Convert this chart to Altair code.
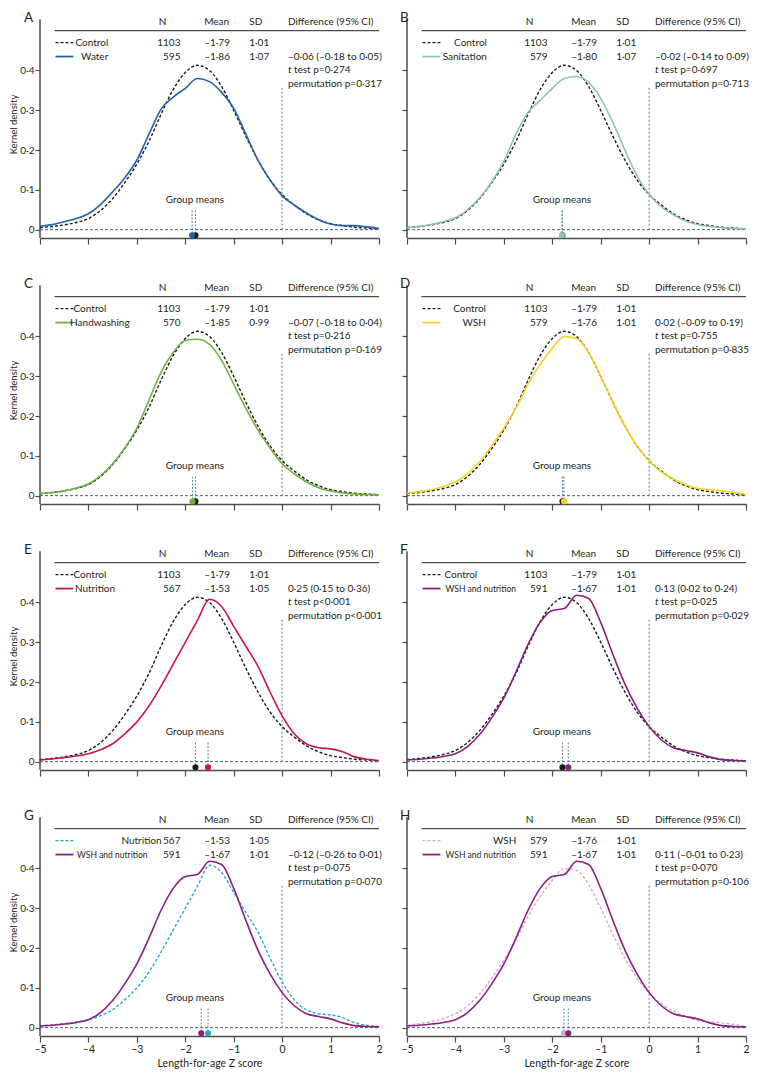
import altair as alt
import pandas as pd

# ---------------- data ----------------
X_GRID = [-5.0, -4.75, -4.5, -4.25, -4.0, -3.75, -3.5, -3.25, -3.0, -2.75, -2.5, -2.25,
          -2.0, -1.75, -1.5, -1.25, -1.0, -0.75, -0.5, -0.25, 0.0, 0.25, 0.5, 0.75,
          1.0, 1.25, 1.5, 1.75, 2.0]

CONTROL = [0.005, 0.008, 0.012, 0.018, 0.028, 0.048, 0.078, 0.118, 0.165, 0.222, 0.29, 0.352,
           0.395, 0.413, 0.40, 0.36, 0.30, 0.235, 0.175, 0.125, 0.088, 0.062, 0.04, 0.025,
           0.015, 0.01, 0.006, 0.004, 0.002]
WATER = [0.009, 0.013, 0.02, 0.028, 0.04, 0.063, 0.095, 0.13, 0.175, 0.24, 0.303, 0.333,
         0.355, 0.38, 0.372, 0.345, 0.305, 0.24, 0.175, 0.125, 0.085, 0.062, 0.042, 0.025,
         0.014, 0.01, 0.01, 0.007, 0.003]
SANITATION = [0.005, 0.008, 0.013, 0.02, 0.03, 0.05, 0.08, 0.12, 0.172, 0.24, 0.295, 0.325,
              0.355, 0.38, 0.385, 0.37, 0.33, 0.27, 0.2, 0.135, 0.088, 0.058, 0.037, 0.022,
              0.013, 0.008, 0.005, 0.003, 0.002]
HANDWASHING = [0.005, 0.008, 0.012, 0.019, 0.03, 0.05, 0.08, 0.12, 0.17, 0.24, 0.31, 0.36,
               0.39, 0.393, 0.38, 0.34, 0.28, 0.22, 0.165, 0.12, 0.08, 0.055, 0.035, 0.02,
               0.012, 0.007, 0.004, 0.003, 0.002]
WSH = [0.006, 0.01, 0.015, 0.023, 0.035, 0.055, 0.085, 0.125, 0.17, 0.22, 0.28, 0.33,
       0.37, 0.40, 0.395, 0.36, 0.30, 0.235, 0.175, 0.125, 0.087, 0.06, 0.042, 0.028,
       0.018, 0.015, 0.012, 0.008, 0.003]
NUTRITION = [0.004, 0.007, 0.01, 0.014, 0.02, 0.03, 0.045, 0.07, 0.10, 0.14, 0.19, 0.245,
             0.30, 0.355, 0.408, 0.39, 0.34, 0.29, 0.24, 0.175, 0.115, 0.07, 0.045, 0.035,
             0.032, 0.025, 0.012, 0.006, 0.003]
WSHN = [0.004, 0.006, 0.009, 0.013, 0.02, 0.038, 0.068, 0.11, 0.16, 0.225, 0.295, 0.35,
        0.38, 0.385, 0.418, 0.41, 0.35, 0.27, 0.195, 0.135, 0.088, 0.055, 0.035, 0.028,
        0.022, 0.012, 0.005, 0.003, 0.002]

SERIES_KEYS = ["control", "water", "sanitation", "handwashing", "wsh", "nutrition", "wshn",
               "nutrition_dash", "wsh_dash"]
SERIES_COLORS = ["#1a1a1a", "#2262a8", "#8ec5b2", "#6db33f", "#f5d31d", "#c8184b", "#8b1f7f",
                 "#2aa8c8", "#d9a8d0"]
CURVES = {"control": CONTROL, "water": WATER, "sanitation": SANITATION,
          "handwashing": HANDWASHING, "wsh": WSH, "nutrition": NUTRITION, "wshn": WSHN,
          "nutrition_dash": NUTRITION, "wsh_dash": WSH}

PANELS = ["A", "B", "C", "D", "E", "F", "G", "H"]
DASHED_SERIES = ["control"] * 6 + ["nutrition_dash", "wsh_dash"]
SOLID_SERIES = ["water", "sanitation", "handwashing", "wsh", "nutrition", "wshn", "wshn", "wshn"]

ROW1_LABEL = ["Control"] * 6 + ["Nutrition", "WSH"]
ROW2_LABEL = ["Water", "Sanitation", "Handwashing", "WSH", "Nutrition",
              "WSH and nutrition", "WSH and nutrition", "WSH and nutrition"]
ROW2_LABEL_SIZE = [10, 10, 10, 10, 10, 8.5, 8.5, 8.5]
ROW1_N = ["1103"] * 6 + ["567", "579"]
ROW2_N = ["595", "579", "570", "579", "567", "591", "591", "591"]
ROW1_MEAN = [-1.79] * 6 + [-1.53, -1.76]
ROW2_MEAN = [-1.86, -1.80, -1.85, -1.76, -1.53, -1.67, -1.67, -1.67]
ROW1_MEAN_TXT = ["–1·79"] * 6 + ["–1·53", "–1·76"]
ROW2_MEAN_TXT = ["–1·86", "–1·80", "–1·85", "–1·76", "–1·53", "–1·67", "–1·67", "–1·67"]
ROW1_SD = ["1·01"] * 6 + ["1·05", "1·01"]
ROW2_SD = ["1·07", "1·07", "0·99", "1·01", "1·05", "1·01", "1·01", "1·01"]
DIFF = ["–0·06 (–0·18 to 0·05)", "–0·02 (–0·14 to 0·09)", "–0·07 (–0·18 to 0·04)",
        "0·02 (–0·09 to 0·19)", "0·25 (0·15 to 0·36)", "0·13 (0·02 to 0·24)",
        "–0·12 (–0·26 to 0·01)", "0·11 (–0·01 to 0·23)"]
TTEST = ["test p=0·274", "test p=0·697", "test p=0·216", "test p=0·755", "test p<0·001",
         "test p=0·025", "test p=0·075", "test p=0·070"]
PERM = ["permutation p=0·317", "permutation p=0·713", "permutation p=0·169",
        "permutation p=0·835", "permutation p<0·001", "permutation p=0·029",
        "permutation p=0·070", "permutation p=0·106"]
# right edge of the legend labels (in Z-score units)
LABEL1_RIGHT = [-3.59, -3.35, -3.63, -3.37, -3.63, -3.55, -2.49, -2.74]
LABEL2_RIGHT = [-3.59, -3.35, -3.15, -3.37, -3.45, -2.75, -2.78, -2.75]

X_TICKS = [-5, -4, -3, -2, -1, 0, 1, 2]
Y_TICKS = [0, 0.1, 0.2, 0.3, 0.4]

FONT = "Lato"
INK = "#231f20"
AXIS_COL = "#4d4d4d"

Y_AXIS_TOP = 0.529          # where the drawn y axis line stops
Y_TOP = 0.552               # top of the panel area (room for the panel letter)
XS = alt.Scale(domain=[-5, 2], nice=False, zero=False)
YS = alt.Scale(domain=[-0.021, Y_TOP], nice=False, zero=False)
CS = alt.Scale(domain=SERIES_KEYS, range=SERIES_COLORS)

# row positions of the small table (density units)
Y_HEAD, Y_LINE, Y_R1, Y_R2, Y_R3, Y_R4 = 0.522, 0.5, 0.47, 0.435, 0.40, 0.365
X_N, X_MEAN, X_SD, X_DIFF = -2.1, -1.61, -0.68, 0.12
X_NHEAD = -2.55

PANEL_W = 339
PANEL_H = 228


def build_panel(i):
    row, col = divmod(i, 2)
    bottom = row == 3
    left = col == 0
    ds, ss = DASHED_SERIES[i], SOLID_SERIES[i]

    x_axis = alt.Axis(values=X_TICKS, labels=bottom, labelFlush=False,
                      labelExpr="replace(format(datum.value, 'd'), '\u2212', '\u2013')",
                      title="Length-for-age Z score" if bottom else None,
                      titleFont=FONT, titleFontSize=10.5, titleFontWeight="normal",
                      titleColor=INK, titlePadding=4,
                      labelFont=FONT, labelFontSize=10.5, labelColor=INK, labelPadding=2,
                      domainColor=AXIS_COL, domainWidth=1.5, tickColor=AXIS_COL,
                      tickWidth=1.2, tickSize=6, grid=False)
    y_axis = alt.Axis(values=Y_TICKS, labels=left, domain=False,
                      labelExpr="datum.value == 0 ? '0' : replace(format(datum.value, '.1f'), '.', '\u00b7')",
                      title="Kernel density" if left else None,
                      titleFont=FONT, titleFontSize=9.5, titleFontWeight="normal",
                      titleColor=INK, titlePadding=1,
                      labelFont=FONT, labelFontSize=10, labelColor=INK, labelPadding=1,
                      tickColor=AXIS_COL, tickWidth=1.2, tickSize=5, grid=False)
    X = alt.X("x:Q", scale=XS, axis=x_axis)
    Y = alt.Y("y:Q", scale=YS, axis=y_axis)
    C = alt.Color("s:N", scale=CS, legend=None)

    dashed_df = pd.DataFrame({"x": X_GRID, "y": CURVES[ds], "s": ds})
    solid_df = pd.DataFrame({"x": X_GRID, "y": CURVES[ss], "s": ss})

    y_line = alt.Chart(pd.DataFrame({"x": [-5], "y": [-0.021], "y2": [Y_AXIS_TOP]})).mark_rule(
        color=AXIS_COL, strokeWidth=1.5).encode(x=X, y=Y, y2="y2:Q")
    zero_line = alt.Chart(pd.DataFrame({"x": [-5], "x2": [2], "y": [0]})).mark_rule(
        color="#45606f", strokeWidth=1, strokeDash=[3, 2]).encode(x=X, x2="x2:Q", y=Y)
    vzero = alt.Chart(pd.DataFrame({"x": [0], "y": [0], "y2": [0.36]})).mark_rule(
        color="#8aa2b2", strokeWidth=1.4, strokeDash=[2, 2]).encode(x=X, y=Y, y2="y2:Q")
    means_df = pd.DataFrame({"x": [ROW1_MEAN[i], ROW2_MEAN[i]], "y": [-0.01, -0.01],
                             "y2": [0.052, 0.052]})
    mean_seg = alt.Chart(means_df).mark_rule(
        color="#6f8d9d", strokeWidth=1.1, strokeDash=[2, 1.5]).encode(x=X, y=Y, y2="y2:Q")

    dashed_line = alt.Chart(dashed_df).mark_line(
        strokeWidth=1.4, strokeDash=[3, 2], interpolate="monotone").encode(x=X, y=Y, color=C)
    solid_line = alt.Chart(solid_df).mark_line(
        strokeWidth=1.6, interpolate="monotone").encode(x=X, y=Y, color=C)

    dot1 = alt.Chart(pd.DataFrame({"x": [ROW1_MEAN[i]], "y": [-0.014], "s": [ds]})).mark_point(
        filled=True, size=38, opacity=1).encode(x=X, y=Y, color=C)
    dot2 = alt.Chart(pd.DataFrame({"x": [ROW2_MEAN[i]], "y": [-0.014], "s": [ss]})).mark_point(
        filled=True, size=38, opacity=1).encode(x=X, y=Y, color=C)

    head_rule = alt.Chart(pd.DataFrame({"x": [-4.7], "x2": [2], "y": [Y_LINE]})).mark_rule(
        color=INK, strokeWidth=1).encode(x=X, x2="x2:Q", y=Y)
    leg1 = alt.Chart(pd.DataFrame({"x": [-4.68], "x2": [-4.31], "y": [Y_R1], "s": [ds]})).mark_rule(
        strokeWidth=1.4, strokeDash=[3, 2]).encode(x=X, x2="x2:Q", y=Y, color=C)
    leg2 = alt.Chart(pd.DataFrame({"x": [-4.68], "x2": [-4.31], "y": [Y_R2], "s": [ss]})).mark_rule(
        strokeWidth=1.8).encode(x=X, x2="x2:Q", y=Y, color=C)

    left_txt = pd.DataFrame({
        "x": [X_NHEAD, X_MEAN, X_SD, X_DIFF, X_MEAN, X_SD, X_MEAN, X_SD, X_DIFF, X_DIFF],
        "y": [Y_HEAD, Y_HEAD, Y_HEAD, Y_HEAD, Y_R1, Y_R1, Y_R2, Y_R2, Y_R2, Y_R4],
        "t": ["N", "Mean", "SD", "Difference (95% CI)", ROW1_MEAN_TXT[i], ROW1_SD[i],
              ROW2_MEAN_TXT[i], ROW2_SD[i], DIFF[i], PERM[i]],
    })
    right_txt = pd.DataFrame({
        "x": [X_N, X_N, LABEL1_RIGHT[i]],
        "y": [Y_R1, Y_R2, Y_R1],
        "t": [ROW1_N[i], ROW2_N[i], ROW1_LABEL[i]],
    })
    tkw = dict(font=FONT, color=INK, baseline="middle")
    t_left = alt.Chart(left_txt).mark_text(align="left", fontSize=10, **tkw).encode(
        x=X, y=Y, text="t:N")
    t_right = alt.Chart(right_txt).mark_text(align="right", fontSize=10, **tkw).encode(
        x=X, y=Y, text="t:N")
    t_lab2 = alt.Chart(pd.DataFrame({"x": [LABEL2_RIGHT[i]], "y": [Y_R2],
                                     "t": [ROW2_LABEL[i]]})).mark_text(
        align="right", fontSize=ROW2_LABEL_SIZE[i], **tkw).encode(x=X, y=Y, text="t:N")
    t_ital = alt.Chart(pd.DataFrame({"x": [X_DIFF], "y": [Y_R3], "t": ["t"]})).mark_text(
        align="left", fontStyle="italic", fontSize=10, **tkw).encode(x=X, y=Y, text="t:N")
    t_test = alt.Chart(pd.DataFrame({"x": [X_DIFF], "y": [Y_R3], "t": [TTEST[i]]})).mark_text(
        align="left", dx=6, fontSize=10, **tkw).encode(x=X, y=Y, text="t:N")
    t_gm = alt.Chart(pd.DataFrame({"x": [-1.8], "y": [0.075], "t": ["Group means"]})).mark_text(
        align="center", fontSize=10, **tkw).encode(x=X, y=Y, text="t:N")
    t_letter = alt.Chart(pd.DataFrame({"x": [-5.0], "y": [Y_TOP], "t": [PANELS[i]]})).mark_text(
        align="left", baseline="top", dx=-16 if left else -7, dy=1, font=FONT, fontSize=13.5,
        color=INK).encode(x=X, y=Y, text="t:N")

    layer = alt.layer(y_line, zero_line, vzero, mean_seg, dashed_line, solid_line, dot1, dot2,
                      head_rule, leg1, leg2, t_left, t_right, t_lab2, t_ital, t_test, t_gm,
                      t_letter)
    return layer.properties(width=PANEL_W, height=PANEL_H)


rows = []
for r in range(4):
    rows.append(alt.hconcat(build_panel(2 * r), build_panel(2 * r + 1),
                            spacing=28, bounds="flush"))

chart = alt.vconcat(*rows, spacing=31).properties(
    padding={"left": 0, "top": 2, "right": 0, "bottom": 0}
).configure_view(strokeWidth=0)

chart.save("out.html", embed_options={"renderer": "svg", "actions": False})
